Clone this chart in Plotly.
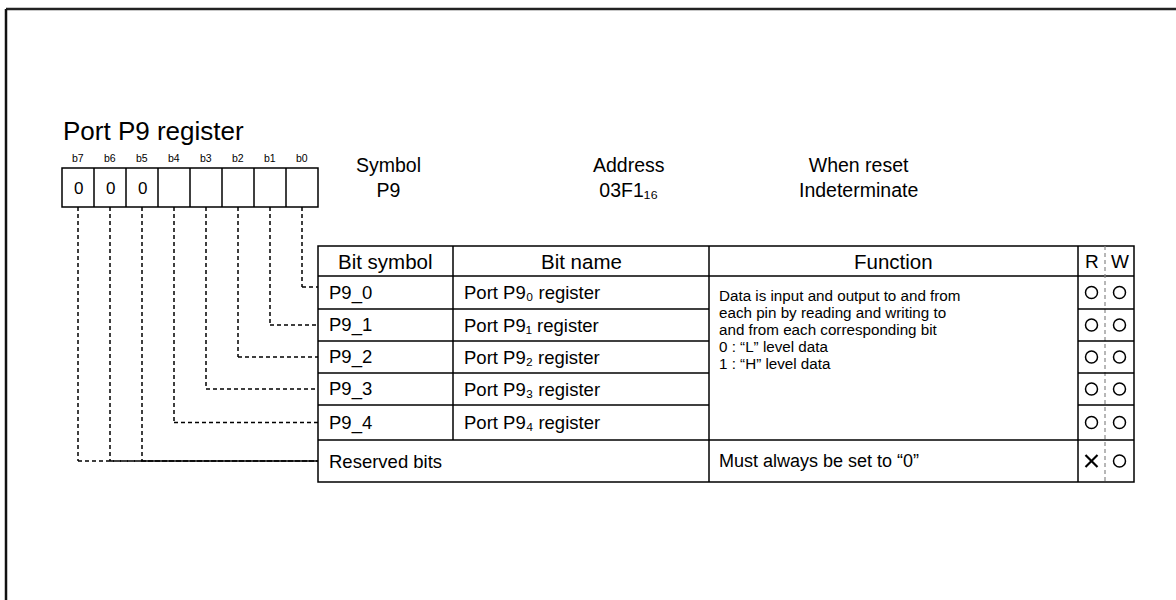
import plotly.graph_objects as go

# ---------------- data ----------------
title_text = "Port P9 register"
bit_labels = ["b7", "b6", "b5", "b4", "b3", "b2", "b1", "b0"]
bit_values = ["0", "0", "0", "", "", "", "", ""]
bit_target_row = [5, 5, 5, 4, 3, 2, 1, 0]  # row of the table each bit connects to

info_titles = ["Symbol", "Address", "When reset"]
info_values = ["P9", "03F1\u2081\u2086", "Indeterminate"]

table_headers = ["Bit symbol", "Bit name", "Function", "R", "W"]
bit_symbols = ["P9_0", "P9_1", "P9_2", "P9_3", "P9_4", "Reserved bits"]
bit_names = ["Port P9\u2080 register", "Port P9\u2081 register",
             "Port P9\u2082 register", "Port P9\u2083 register",
             "Port P9\u2084 register", ""]
function_lines = ["Data is input and output to and from",
                  "each pin by reading and writing to",
                  "and from each corresponding bit",
                  "0 : \u201cL\u201d level data",
                  "1 : \u201cH\u201d level data"]
reserved_function = "Must always be set to \u201c0\u201d"
read_marks = ["o", "o", "o", "o", "o", "x"]
write_marks = ["o", "o", "o", "o", "o", "o"]

# ---------------- layout geometry ----------------
W, H = 1176, 600
FONT = "Arial, Liberation Sans, Helvetica, sans-serif"
BLACK = "#000000"

box_x0, box_y0, cell_w, box_h = 62, 168, 32, 39
tbl_x = [318, 453, 709, 1078, 1134]
rw_mid = 1105
tbl_top, hdr_bot = 246, 276
row_tops = [276, 309, 341, 373, 405, 440]
tbl_bot = 482
DASH = "4px,3px"

shapes = []
annotations = []


def line(x0, y0, x1, y1, width=1.5, color=BLACK, dash=None):
    d = dict(type="line", x0=x0, y0=y0, x1=x1, y1=y1, xref="x", yref="y",
             line=dict(color=color, width=width))
    if dash:
        d["line"]["dash"] = dash
    shapes.append(d)


def text(x, y, s, size, anchor="center", color=BLACK):
    annotations.append(dict(x=x, y=y, xref="x", yref="y", text=s, showarrow=False,
                            xanchor=anchor, yanchor="middle", align="center",
                            font=dict(family=FONT, size=size, color=color)))


def mark(kind, x, y):
    r = 6
    if kind == "o":
        shapes.append(dict(type="circle", xref="x", yref="y", x0=x - r, y0=y - r,
                           x1=x + r, y1=y + r, line=dict(color=BLACK, width=1.5)))
    else:
        line(x - r, y - r, x + r, y + r, width=2.2)
        line(x - r, y + r, x + r, y - r, width=2.2)


# outer frame
line(6, 9, W, 9, width=2.5, color="#222222")
line(6, 9, 6, H, width=2.5, color="#111111")

# title
text(61, 131, title_text, 26, anchor="left")

# register box
for i, (lab, val) in enumerate(zip(bit_labels, bit_values)):
    cx = box_x0 + cell_w * (i + 0.5)
    text(cx, 158, lab, 10.5)
    if val:
        text(cx, 188, val, 17)
shapes.append(dict(type="rect", x0=box_x0, y0=box_y0, x1=box_x0 + 8 * cell_w,
                   y1=box_y0 + box_h, xref="x", yref="y", line=dict(color=BLACK, width=1.5)))
for i in range(1, 8):
    line(box_x0 + cell_w * i, box_y0, box_x0 + cell_w * i, box_y0 + box_h)

# info text
info_x = [388, 629, 858]
for x, t, v in zip(info_x, info_titles, info_values):
    text(x, 177, t + "<br>" + v, 19.5)

# row centres
row_bots = row_tops[1:] + [tbl_bot]
row_cy = [(a + b) / 2 for a, b in zip(row_tops, row_bots)]
conn_y = list(row_cy)
conn_y[0] = 287

# dashed connectors
for i, r in enumerate(bit_target_row):
    cx = box_x0 + cell_w * (i + 0.5)
    yy = conn_y[r]
    line(cx, box_y0 + box_h, cx, yy, dash=DASH)
    line(cx, yy, tbl_x[0], yy, dash=DASH)

# table outer
shapes.append(dict(type="rect", x0=tbl_x[0], y0=tbl_top, x1=tbl_x[-1], y1=tbl_bot,
                   xref="x", yref="y", line=dict(color=BLACK, width=1.5)))
line(tbl_x[0], hdr_bot, tbl_x[-1], hdr_bot)
# vertical lines
line(tbl_x[1], tbl_top, tbl_x[1], row_tops[5])
line(tbl_x[2], tbl_top, tbl_x[2], tbl_bot)
line(tbl_x[3], tbl_top, tbl_x[3], tbl_bot)
line(rw_mid, tbl_top, rw_mid, tbl_bot, width=1.2, color="#888888", dash=DASH)
# row lines
for yt in row_tops[1:]:
    line(tbl_x[0], yt, tbl_x[2], yt)
    line(tbl_x[3], yt, tbl_x[4], yt)
line(tbl_x[2], row_tops[5], tbl_x[3], row_tops[5])

# headers
hdr_cy = (tbl_top + hdr_bot) / 2 + 0.5
text((tbl_x[0] + tbl_x[1]) / 2, hdr_cy, table_headers[0], 20.5)
text((tbl_x[1] + tbl_x[2]) / 2, hdr_cy, table_headers[1], 20.5)
text((tbl_x[2] + tbl_x[3]) / 2, hdr_cy, table_headers[2], 20.5)
text((tbl_x[3] + rw_mid) / 2, hdr_cy, table_headers[3], 19)
text((rw_mid + tbl_x[4]) / 2, hdr_cy, table_headers[4], 19)

# rows
for i in range(6):
    text(tbl_x[0] + 9, row_cy[i], bit_symbols[i], 18.5, anchor="left")
    if bit_names[i]:
        text(tbl_x[1] + 9, row_cy[i], bit_names[i], 18.5, anchor="left")

# function text
for k, ln in enumerate(function_lines):
    text(tbl_x[2] + 8, 295 + 17 * k, ln, 15.2, anchor="left")
text(tbl_x[2] + 8, row_cy[5], reserved_function, 18, anchor="left")

# R/W marks
rx = (tbl_x[3] + rw_mid) / 2
wx = (rw_mid + tbl_x[4]) / 2
for i in range(6):
    mark(read_marks[i], rx, row_cy[i])
    mark(write_marks[i], wx, row_cy[i])

fig = go.Figure()
fig.update_layout(
    width=W, height=H, margin=dict(l=0, r=0, t=0, b=0),
    paper_bgcolor="white", plot_bgcolor="white",
    xaxis=dict(range=[0, W], visible=False, fixedrange=True),
    yaxis=dict(range=[H, 0], visible=False, fixedrange=True),
    shapes=shapes, annotations=annotations, showlegend=False,
)
fig.write_html("out.html", config={"displayModeBar": False},
               post_script="document.body.style.margin='0px';")
